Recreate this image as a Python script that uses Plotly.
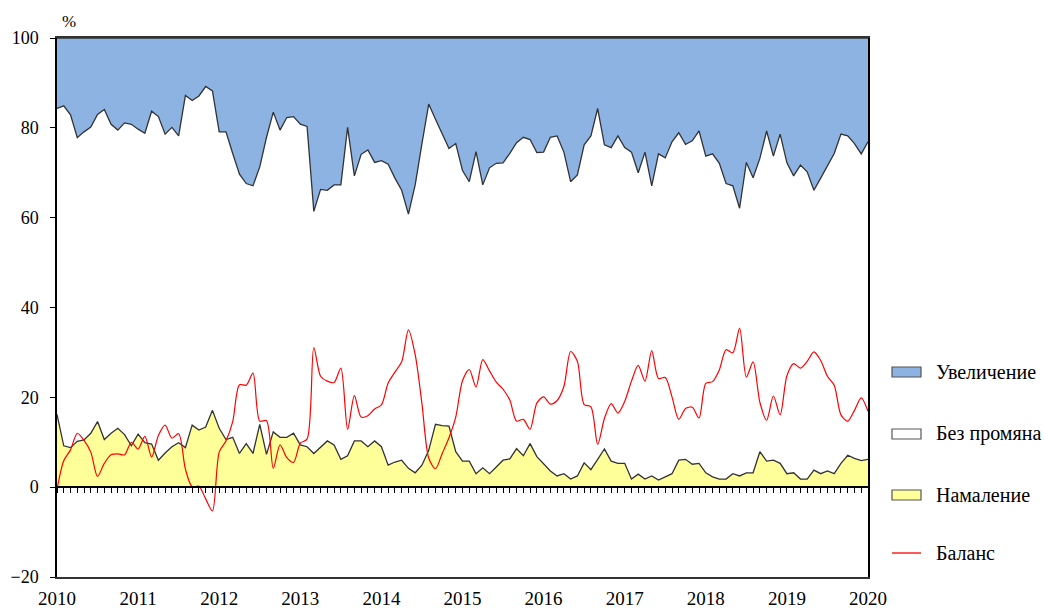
import plotly.graph_objects as go

# Monthly observations Jan 2010 .. Jan 2020 (121 months)
years = [2010 + i / 12 for i in range(121)]

increase = [15.7, 15.1, 17.1, 22.2, 20.9, 19.8, 17.0, 15.9, 19.2, 20.5, 18.9, 19.2,
            20.3, 21.2, 16.3, 17.5, 21.4, 19.9, 21.8, 12.8, 13.9, 12.9, 10.8, 11.8,
            20.9, 20.9, 25.7, 30.3, 32.4, 32.9, 28.7, 22.1, 16.5, 20.5, 17.7, 17.5,
            19.2, 19.7, 38.6, 33.7, 33.9, 32.7, 32.7, 19.9, 30.7, 25.9, 24.9, 27.7,
            27.3, 28.1, 31.2, 33.9, 39.2, 32.7, 23.5, 14.7, 18.1, 21.2, 24.6, 23.5,
            29.5, 32.0, 25.3, 32.7, 28.9, 27.9, 27.8, 25.7, 23.3, 22.1, 22.6, 25.5,
            25.4, 22.1, 21.8, 25.4, 32.0, 30.5, 23.8, 21.8, 15.7, 23.8, 24.4, 21.8,
            24.4, 25.4, 30.0, 25.4, 32.9, 25.8, 26.7, 23.1, 21.1, 23.7, 22.9, 20.7,
            26.3, 25.8, 27.9, 32.4, 32.9, 37.9, 27.7, 31.1, 26.8, 20.7, 26.3, 21.4,
            27.8, 30.7, 28.3, 29.8, 33.9, 31.2, 28.3, 25.7, 21.4, 21.8, 23.5, 25.8,
            23.1]

no_change = [68.1, 75.7, 74.1, 67.6, 68.6, 68.2, 68.4, 73.5, 68.8, 66.4, 69.4, 71.6,
             67.9, 68.9, 74.1, 76.5, 71.0, 71.1, 68.3, 78.4, 72.3, 74.4, 75.8, 71.1,
             66.0, 68.5, 63.2, 62.2, 57.9, 59.6, 57.3, 70.6, 71.2, 68.4, 71.2, 70.5,
             71.4, 71.3, 53.9, 57.3, 55.8, 57.9, 61.1, 73.1, 59.0, 63.8, 66.1, 62.0,
             63.7, 67.0, 63.2, 60.1, 56.6, 64.1, 71.6, 77.1, 67.9, 65.1, 61.8, 68.6,
             64.7, 62.2, 71.7, 63.0, 68.1, 67.6, 66.2, 68.0, 68.1, 70.9, 67.7, 67.7,
             69.3, 74.3, 75.7, 71.6, 66.2, 67.0, 70.8, 74.3, 78.1, 67.7, 69.8, 72.9,
             70.3, 72.8, 67.1, 72.8, 64.6, 72.6, 71.0, 73.9, 72.9, 70.1, 72.0, 74.0,
             70.5, 71.9, 70.3, 65.8, 64.1, 59.6, 69.1, 65.7, 65.3, 73.5, 67.7, 73.3,
             69.2, 66.1, 69.9, 68.4, 62.3, 65.8, 68.1, 71.3, 73.3, 71.1, 70.1, 68.3,
             70.7]

decrease = [16.2, 9.2, 8.8, 10.2, 10.5, 12.0, 14.6, 10.6, 12.0, 13.1, 11.7, 9.2,
            11.8, 9.9, 9.6, 6.0, 7.6, 9.0, 9.9, 8.8, 13.8, 12.7, 13.4, 17.1,
            13.1, 10.6, 11.1, 7.5, 9.7, 7.5, 14.0, 7.3, 12.3, 11.1, 11.1, 12.0,
            9.4, 9.0, 7.5, 9.0, 10.3, 9.4, 6.2, 7.0, 10.3, 10.3, 9.0, 10.3,
            9.0, 4.9, 5.6, 6.0, 4.2, 3.2, 4.9, 8.2, 14.0, 13.7, 13.6, 7.9,
            5.8, 5.8, 3.0, 4.3, 3.0, 4.5, 6.0, 6.3, 8.6, 7.0, 9.7, 6.8,
            5.3, 3.6, 2.5, 3.0, 1.8, 2.5, 5.4, 3.9, 6.2, 8.5, 5.8, 5.3,
            5.3, 1.8, 2.9, 1.8, 2.5, 1.6, 2.3, 3.0, 6.0, 6.2, 5.1, 5.3,
            3.2, 2.3, 1.8, 1.8, 3.0, 2.5, 3.2, 3.2, 7.9, 5.8, 6.0, 5.3,
            3.0, 3.2, 1.8, 1.8, 3.8, 3.0, 3.6, 3.0, 5.3, 7.1, 6.4, 5.9,
            6.2]

balance = [-0.5, 5.9, 8.3, 12.0, 10.4, 7.8, 2.4, 5.3, 7.2, 7.4, 7.2, 10.0,
           8.5, 11.3, 6.7, 11.5, 13.8, 10.9, 11.9, 4.0, 0.1, 0.2, -2.6, -5.3,
           7.8, 10.3, 14.6, 22.8, 22.7, 25.4, 14.7, 14.8, 4.2, 9.4, 6.6, 5.5,
           9.8, 10.7, 31.1, 24.7, 23.6, 23.3, 26.5, 12.9, 20.4, 15.6, 15.9, 17.4,
           18.3, 23.2, 25.6, 27.9, 35.0, 29.5, 18.6, 6.5, 4.1, 7.5, 11.0, 15.6,
           23.7, 26.2, 22.3, 28.4, 25.9, 23.4, 21.8, 19.4, 14.7, 15.1, 12.9, 18.7,
           20.1, 18.5, 19.3, 22.4, 30.2, 28.0, 18.4, 17.9, 9.5, 15.3, 18.6, 16.5,
           19.1, 23.6, 27.1, 23.6, 30.4, 24.2, 24.4, 20.1, 15.1, 17.5, 17.8, 15.4,
           23.1, 23.5, 26.1, 30.6, 29.9, 35.4, 24.5, 27.9, 18.9, 14.9, 20.3, 16.1,
           24.8, 27.5, 26.5, 28.0, 30.1, 28.2, 24.7, 22.7, 16.1, 14.7, 17.1, 19.9,
           16.9]

year_ticks = list(range(2010, 2021))
y_ticks = [-20, 0, 20, 40, 60, 80, 100]

series_names = ["Увеличение", "Без промяна", "Намаление", "Баланс"]

FONT = "Times New Roman, Liberation Serif, DejaVu Serif, serif"
EDGE = "#333333"
C_INC, C_NC, C_DEC, C_BAL = "#8DB3E2", "#FFFFFF", "#FFFF99", "#FF0000"

# figure geometry (pixels)
W, H = 1046, 609
ML, MR, MT, MB = 57, 178, 38, 32
PW, PH = W - ML - MR, H - MT - MB


def px_x(px):
    return (px - ML) / PW


def px_y(py):
    return (H - MB - py) / PH


fig = go.Figure()

fig.add_trace(go.Scatter(
    x=years, y=decrease, name=series_names[2], stackgroup="one", mode="lines",
    line=dict(color=EDGE, width=1.3), fillcolor=C_DEC,
    showlegend=False, hoverinfo="skip"))
fig.add_trace(go.Scatter(
    x=years, y=no_change, name=series_names[1], stackgroup="one", mode="lines",
    line=dict(color=EDGE, width=1.3), fillcolor=C_NC,
    showlegend=False, hoverinfo="skip"))
fig.add_trace(go.Scatter(
    x=years, y=increase, name=series_names[0], stackgroup="one", mode="lines",
    line=dict(color=EDGE, width=1.3), fillcolor=C_INC,
    showlegend=False, hoverinfo="skip"))
fig.add_trace(go.Scatter(
    x=years, y=balance, name=series_names[3], mode="lines",
    line=dict(color=C_BAL, width=1.2, shape="spline", smoothing=0.8),
    showlegend=False, hoverinfo="skip"))

# helper trace so the zero-line month-tick axis is drawn
fig.add_trace(go.Scatter(
    x=[year_ticks[0], year_ticks[-1]], y=[0, 0], xaxis="x2", mode="lines",
    line=dict(width=0, color="rgba(0,0,0,0)"), showlegend=False, hoverinfo="skip"))

# hand-drawn legend (boxes like the original)
legend_rows = [372, 434, 495, 553]
legend_fills = [C_INC, C_NC, C_DEC, None]
shapes = []
annotations = []
for name, row, fill in zip(series_names, legend_rows, legend_fills):
    if fill is not None:
        shapes.append(dict(
            type="rect", xref="paper", yref="paper",
            x0=px_x(892), x1=px_x(921), y0=px_y(row + 5), y1=px_y(row - 5),
            fillcolor=fill, line=dict(color="#555555", width=1.2)))
    else:
        shapes.append(dict(
            type="line", xref="paper", yref="paper",
            x0=px_x(892), x1=px_x(921), y0=px_y(row), y1=px_y(row),
            line=dict(color=C_BAL, width=1.3)))
    annotations.append(dict(
        text=name, xref="paper", yref="paper", x=px_x(934), y=px_y(row),
        xanchor="left", yanchor="middle", showarrow=False,
        font=dict(family=FONT, size=20, color="black")))

annotations.append(dict(
    text="%", xref="paper", yref="paper", x=px_x(69), y=1,
    xanchor="center", yanchor="bottom", yshift=5, showarrow=False,
    font=dict(family=FONT, size=17, color="black")))

fig.update_layout(
    width=W, height=H,
    margin=dict(l=ML, r=MR, t=MT, b=MB, autoexpand=False),
    paper_bgcolor="white", plot_bgcolor="white",
    font=dict(family=FONT, size=18, color="black"),
    showlegend=False,
    xaxis=dict(
        range=[year_ticks[0], year_ticks[-1]], tickmode="array",
        tickvals=year_ticks, ticktext=[str(y) for y in year_ticks],
        showgrid=False, zeroline=False, ticks="", showline=True,
        linecolor=EDGE, linewidth=1.5, mirror=True, ticklabelstandoff=3,
        tickfont=dict(family=FONT, size=19)),
    xaxis2=dict(
        range=[year_ticks[0], year_ticks[-1]], overlaying="x", anchor="free",
        position=20 / 120, tick0=2010, dtick=1 / 12, ticks="outside",
        ticklen=5, tickwidth=1, tickcolor="black", showticklabels=False,
        showgrid=False, zeroline=False, showline=True, linecolor="black",
        linewidth=1.5),
    yaxis=dict(
        range=[-20, 100], tickmode="array", tickvals=y_ticks,
        showgrid=False, zeroline=False, ticks="outside", ticklen=5,
        tickcolor="black", showline=True, linecolor="black", linewidth=1.5,
        mirror=True, ticklabelstandoff=8, tickfont=dict(family=FONT, size=18)),
    shapes=shapes,
    annotations=annotations,
)

fig.write_html("out.html", config={"displayModeBar": False},
               post_script="document.body.style.margin='0px';")
